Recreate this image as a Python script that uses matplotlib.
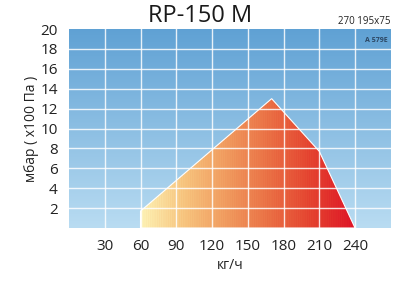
import matplotlib
matplotlib.use('Agg')
import matplotlib.pyplot as plt
import numpy as np
from matplotlib.colors import LinearSegmentedColormap

# working field of the burner (kg/h vs mbar)
flow = [60, 60, 170, 210, 240]
pressure = [0, 1.7, 13.0, 7.7, 0]

x_ticks = [30, 60, 90, 120, 150, 180, 210, 240]
y_ticks = [2, 4, 6, 8, 10, 12, 14, 16, 18, 20]

plt.rcParams['font.family'] = ['Open Sans', 'DejaVu Sans']

fig = plt.figure(figsize=(3.96, 2.83), dpi=100)
ax = fig.add_axes([0.1742, 0.1943, 0.8128, 0.7032])
ax.set_xlim(0, 270)
ax.set_ylim(0, 20)

# blue background, darker at the top
bg = LinearSegmentedColormap.from_list('bg', ['#b9dcf2', '#5fa1d4'])
ax.imshow(np.linspace(0, 1, 200).reshape(-1, 1), cmap=bg, origin='lower',
          extent=(0, 270, 0, 20), aspect='auto', zorder=0)

# warm gradient clipped to the working field
fire = LinearSegmentedColormap.from_list(
    'fire', ['#fdf1b4', '#f7c47e', '#f09a5e', '#ea6f44', '#e4412f', '#de1427'])
xs = np.linspace(0, 1, 360)
stripes = 0.02 * np.sin(np.arange(360) * 1.7)
grad = np.clip(xs + stripes, 0, 1).reshape(1, -1)
poly = ax.fill(flow, pressure, facecolor='none', edgecolor='white', lw=0.8, zorder=2)[0]
im = ax.imshow(grad, cmap=fire, extent=(min(flow), max(flow), 0, max(pressure)),
               aspect='auto', zorder=1)
im.set_clip_path(poly)

# white grid on top
for x in x_ticks:
    ax.axvline(x, color='white', lw=1.0, alpha=0.85, zorder=3)
for y in y_ticks[:-1]:
    ax.axhline(y, color='white', lw=1.0, alpha=0.85, zorder=3)

ax.set_xticks(x_ticks)
ax.set_yticks(y_ticks)
ax.tick_params(length=0, labelsize=11, colors='#222222')
ax.tick_params(axis='x', pad=8)
ax.tick_params(axis='y', pad=8)
for s in ax.spines.values():
    s.set_visible(False)

ax.set_xlabel('кг/ч', fontsize=10, color='#222222', labelpad=3)
ax.set_ylabel('мбар ( x100 Па )', fontsize=10, color='#222222', labelpad=1)

fig.text(0.505, 0.943, 'RP-150 M', ha='center', va='center', fontsize=17, color='#1a1a1a')
fig.text(0.985, 0.925, '270 195x75', ha='right', va='center', fontsize=7, color='#222222')
ax.text(258, 18.8, 'A 579E', ha='center', va='center', fontsize=5, fontweight='bold',
        color='#2c4763', zorder=4)

fig.savefig('out.png', dpi=100)
